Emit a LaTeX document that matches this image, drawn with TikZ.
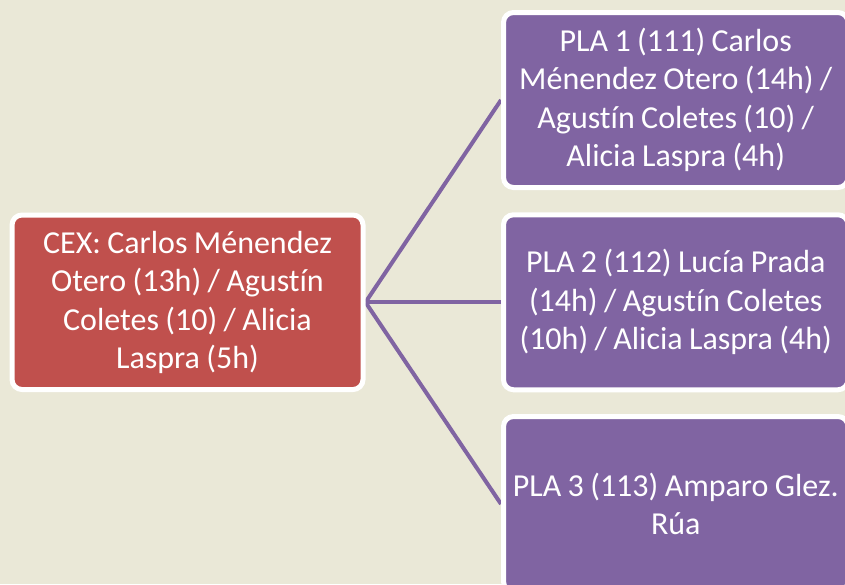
\documentclass[tikz,border=0pt]{standalone}
\usepackage{fontspec}
\setmainfont{Carlito}[Ligatures=CommonOff]
\pgfdeclarelayer{bgfill}
\pgfdeclarelayer{links}
\pgfsetlayers{bgfill,links,main}
\definecolor{bgtan}{HTML}{EAE8D7}
\definecolor{boxred}{HTML}{C0504D}
\definecolor{boxpurple}{HTML}{8064A2}
\tikzset{
  box/.style={draw=white, line width=5pt, rounded corners=10pt, inner sep=0pt,
    text=white, align=center, font=\fontsize{32}{38.5}\selectfont,
    execute at begin node={\spaceskip=0.2em\relax}},
  leftbox/.style={box, fill=boxred, minimum width=351pt, minimum height=174.5pt, text width=340pt},
  rightbox/.style={box, fill=boxpurple, minimum width=344.5pt, minimum height=175pt, text width=340pt},
  link/.style={draw=boxpurple, line width=4pt}
}
\begin{document}
\begin{tikzpicture}[x=1pt,y=-1pt]
\useasboundingbox (0,0) rectangle (845,584);
\begin{pgfonlayer}{bgfill}
\fill[bgtan] (0,0) rectangle (845,584);
\end{pgfonlayer}
\node[leftbox] (cex) at (187.5,302.25) {CEX: Carlos Ménendez\\Otero (13h) / Agustín\\Coletes (10) / Alicia\\Laspra (5h)};
\node[rightbox] (pla1) at (675.75,100) {PLA 1 (111) Carlos\\Ménendez Otero (14h) /\\Agustín Coletes (10) /\\Alicia Laspra (4h)};
\node[rightbox] (pla2) at (675.75,302.25) {PLA 2 (112) Lucía Prada\\(14h) / Agustín Coletes\\(10h) / Alicia Laspra (4h)};
\node[rightbox] (pla3) at (675.75,504) {PLA 3 (113) Amparo Glez.\\Rúa};
\begin{pgfonlayer}{links}
\draw[link] (cex.east) -- (pla1.west);
\draw[link] (cex.east) -- (pla2.west);
\draw[link] (cex.east) -- (pla3.west);
\end{pgfonlayer}
\end{tikzpicture}
\end{document}
